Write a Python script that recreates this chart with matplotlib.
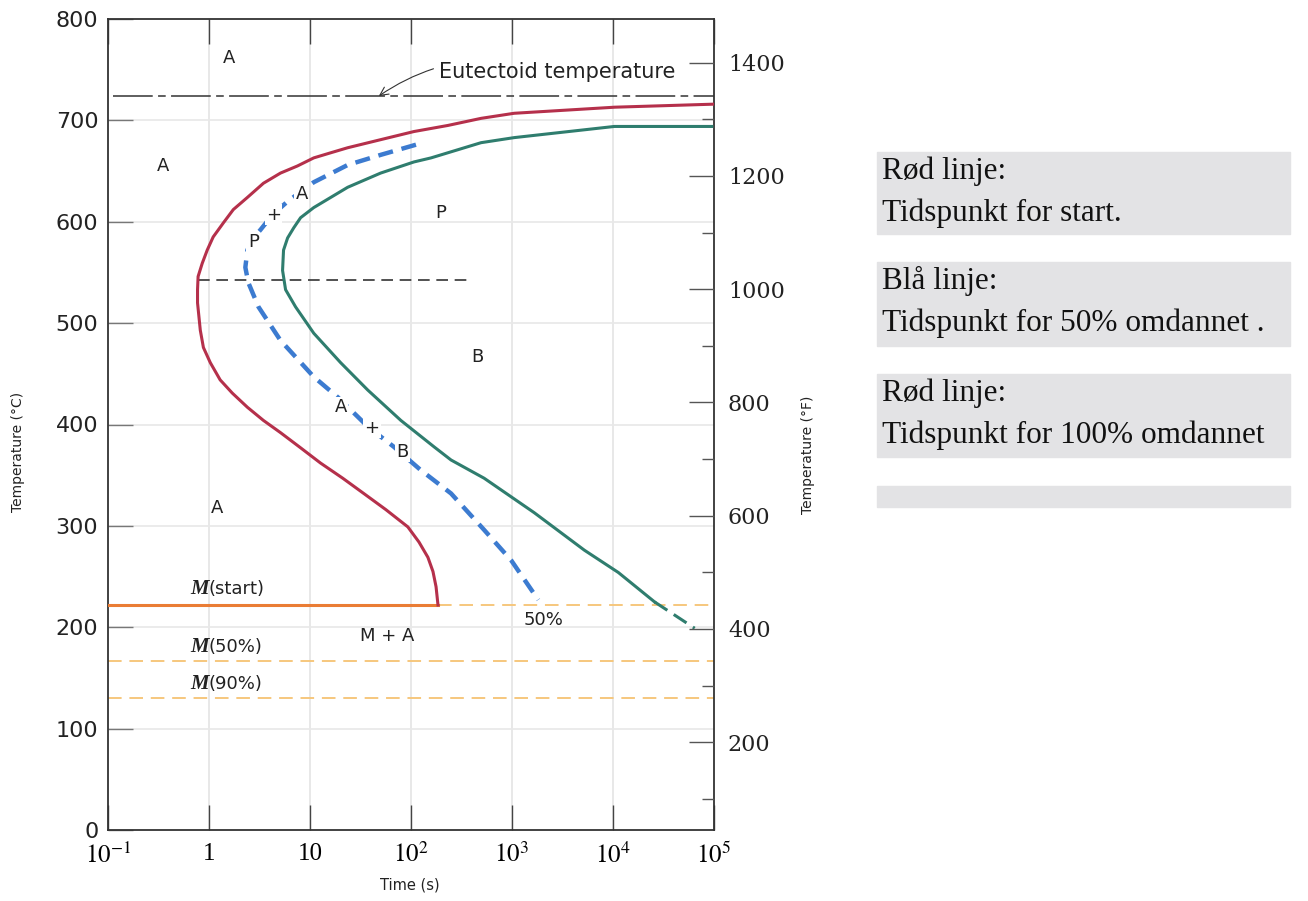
import matplotlib.pyplot as plt
from matplotlib.patches import Rectangle
from matplotlib.ticker import FixedLocator, NullLocator

# TTT-diagram: tid (s) og temperatur (°C)
red_t = [1.0e5, 1.04e4, 1050, 494, 232, 107, 50.2, 23.6, 16.0, 10.9,
         7.5, 5.1, 3.46, 2.40, 1.74, 1.39, 1.10, 0.96, 0.857, 0.78,
         0.77, 0.77, 0.82, 0.88, 1.03, 1.29, 1.70, 2.40, 3.46, 5.1,
         8.07, 12.7, 21.1, 34.0, 56.4, 93, 120, 147, 165, 177, 185]
red_T = [716, 713, 707, 702, 695, 689, 681, 673, 668, 663,
         655, 648, 638, 624, 612, 599, 585, 572, 559, 546,
         533, 520, 493, 476, 461, 444, 431, 417, 404, 392,
         377, 362, 347, 332, 316, 299, 284, 269, 255, 240, 222]

blue_t = [112, 50.2, 23.6, 10.9, 6.0, 4.26, 3.23, 2.69, 2.40, 2.29, 2.45, 3.09,
          3.88, 5.1, 10.9, 18.8, 37.3, 67.6, 125, 249, 530, 982, 1820]
blue_T = [676, 666, 656, 639, 620, 607, 592, 583, 572, 555, 540, 516,
          501, 483, 447, 427, 398, 378, 355, 332, 296, 266, 227]

green_t = [9.5e4, 1.03e4, 1052, 494, 158, 107, 50, 23.6, 10.9, 8.07, 6.9, 6.0,
           5.47, 5.35, 5.73, 7.2, 10.9, 20.1, 37.3, 79.4, 169, 249, 530, 1660,
           5210, 1.13e4, 2.58e4]
green_T = [694, 694, 683, 678, 663, 659, 648, 634, 614, 604, 594, 584,
           572, 552, 533, 516, 490, 461, 434, 404, 378, 365, 347, 313,
           276, 254, 225]
green_dash_t = [2.58e4, 6.44e4]
green_dash_T = [225, 199]

eutectoid_T = 724
nose_T = 543
nose_t = [0.78, 376]
ms_T = 222
m50_T = 167
m90_T = 130

celsius_ticks = [0, 100, 200, 300, 400, 500, 600, 700, 800]
fahr_major = [200, 400, 600, 800, 1000, 1200, 1400]
fahr_minor = [100, 300, 500, 700, 900, 1100, 1300]
time_ticks = [1e-1, 1, 10, 1e2, 1e3, 1e4, 1e5]
time_labels = ['$10^{-1}$', '1', '10', '$10^{2}$', '$10^{3}$', '$10^{4}$', '$10^{5}$']

# områdenavn (de siste seks ligger inne i den stiplede 50%-kurven)
region_labels = ['A', 'A', 'P', 'B', 'A', 'M + A', '50%']
region_t = [1.59, 0.352, 198, 451, 1.21, 57.6, 2040]
region_T = [762, 655, 609, 467, 318, 191, 207]
inline_labels = ['A', '+', 'P', 'A', '+', 'B']
inline_t = [8.26, 4.35, 2.75, 20.1, 40.9, 83]
inline_T = [627, 607, 580, 417, 397, 373]

m_labels = ['(start)', '(50%)', '(90%)']
m_label_T = [238, 181, 144]

box_titles = ['Rød linje:', 'Blå linje:', 'Rød linje:']
box_texts = ['Tidspunkt for start.', 'Tidspunkt for 50% omdannet .', 'Tidspunkt for 100% omdannet']

plt.rcParams['mathtext.fontset'] = 'stix'

W, H = 1308, 901
fig = plt.figure(figsize=(13.08, 9.01), dpi=100)
ax = fig.add_axes([108 / W, 1 - 830 / H, 606 / W, 811 / H])

ax.set_xscale('log')
ax.set_xlim(1e-1, 1e5)
ax.set_ylim(0, 800)

# rutenett
for t in time_ticks[1:-1]:
    ax.axvline(t, color='#e4e4e4', lw=1.2, zorder=0)
for T in celsius_ticks[1:-1]:
    ax.axhline(T, color='#e8e8e8', lw=1.2, zorder=0)

# kurver
ax.plot(red_t, red_T, color='#b5304b', lw=2.2, zorder=4)
ax.plot(blue_t, blue_T, color='#3c7bd0', lw=3.2, dashes=(3.4, 2.0), zorder=4)
ax.plot(green_t, green_T, color='#2f7d6e', lw=2.2, zorder=4)
ax.plot(green_dash_t, green_dash_T, color='#2f7d6e', lw=2.2, dashes=(5, 2.5), zorder=4)

# horisontale linjer
ax.plot([0.112, 1e5], [eutectoid_T, eutectoid_T], color='#333333', lw=1.1,
        dashes=(26, 3.5, 5, 3.5), zorder=3)
ax.plot(nose_t, [nose_T, nose_T], color='#333333', lw=1.2, dashes=(7, 4), zorder=3)
ax.plot([1e-1, red_t[-1]], [ms_T, ms_T], color='#ea7d35', lw=2.2, zorder=3)
ax.plot([red_t[-1], 1e5], [ms_T, ms_T], color='#f6c77d', lw=1.4, dashes=(7, 4), zorder=2)
ax.plot([1e-1, 1e5], [m50_T, m50_T], color='#f6c77d', lw=1.4, dashes=(7, 4), zorder=2)
ax.plot([1e-1, 1e5], [m90_T, m90_T], color='#f6c77d', lw=1.4, dashes=(7, 4), zorder=2)

# tekst i diagrammet
for lab, t, T in zip(region_labels, region_t, region_T):
    ax.text(t, T, lab, fontsize=13, ha='center', va='center', color='#222222', zorder=5)
for lab, t, T in zip(inline_labels, inline_t, inline_T):
    ax.text(t, T, lab, fontsize=13, ha='center', va='center', color='#222222', zorder=5,
            bbox=dict(facecolor='white', edgecolor='none', pad=1.0))

for lab, T in zip(m_labels, m_label_T):
    ax.text(1.0, T, 'M', fontsize=15, ha='right', va='center', family='Liberation Serif',
            style='italic', weight='bold', color='#222222')
    ax.text(1.0, T, lab, fontsize=13, ha='left', va='center', color='#222222')

ax.annotate('Eutectoid temperature', xy=(48, eutectoid_T), xytext=(189, 748),
            fontsize=15, ha='left', va='center', color='#222222',
            arrowprops=dict(arrowstyle='->', color='#333333', lw=0.8,
                            connectionstyle='arc3,rad=0.25', shrinkA=2, shrinkB=0))

# akser og ticks
ax.xaxis.set_major_locator(FixedLocator(time_ticks))
ax.xaxis.set_minor_locator(NullLocator())
ax.set_xticklabels(time_labels, fontsize=18, family='Liberation Serif')
ax.set_yticks(celsius_ticks)
ax.set_yticklabels([str(v) for v in celsius_ticks], fontsize=16, color='#222222')
ax.tick_params(axis='x', which='major', direction='in', length=18, width=1,
               top=True, pad=9, color='#444444')
ax.tick_params(axis='y', which='major', direction='in', length=18, width=1,
               right=False, pad=7, color='#777777')
for s in ax.spines.values():
    s.set_color('#333333')
    s.set_linewidth(1.3)

ax2 = ax.twinx()
ax2.set_ylim(45, 1477)
ax2.yaxis.set_major_locator(FixedLocator(fahr_major))
ax2.yaxis.set_minor_locator(FixedLocator(fahr_minor))
ax2.set_yticklabels([str(v) for v in fahr_major], fontsize=16, family='DejaVu Serif',
                    color='#222222')
ax2.tick_params(axis='y', which='major', direction='in', length=18, width=1, pad=10,
                color='#555555')
ax2.tick_params(axis='y', which='minor', direction='in', length=9, width=1, color='#555555')
for s in ax2.spines.values():
    s.set_visible(False)

fig.text(18 / W, 1 - 452 / H, 'Temperature (°C)', rotation=90, fontsize=10,
         ha='center', va='center', color='#222222')
fig.text(808 / W, 1 - 455 / H, 'Temperature (°F)', rotation=90, fontsize=10,
         ha='center', va='center', color='#222222')
fig.text(410 / W, 1 - 885 / H, 'Time (s)', fontsize=10.5, ha='center', va='center',
         color='#222222')

# forklaringsbokser
box_tops = [152, 262, 374]
box_bottoms = [234, 346, 457]
for top, bottom, title, txt in zip(box_tops, box_bottoms, box_titles, box_texts):
    fig.patches.append(Rectangle((877 / W, 1 - bottom / H), 413 / W, (bottom - top) / H,
                                 transform=fig.transFigure, color='#e3e3e5', zorder=0))
    fig.text(882 / W, 1 - (top + 27) / H, title, fontsize=22.5, family='Liberation Serif',
             va='baseline', ha='left', color='#111111')
    fig.text(882 / W, 1 - (top + 69) / H, txt, fontsize=22.5, family='Liberation Serif',
             va='baseline', ha='left', color='#111111')
fig.patches.append(Rectangle((877 / W, 1 - 507 / H), 413 / W, 21 / H,
                             transform=fig.transFigure, color='#e3e3e5', zorder=0))

fig.savefig('out.png', dpi=100)
